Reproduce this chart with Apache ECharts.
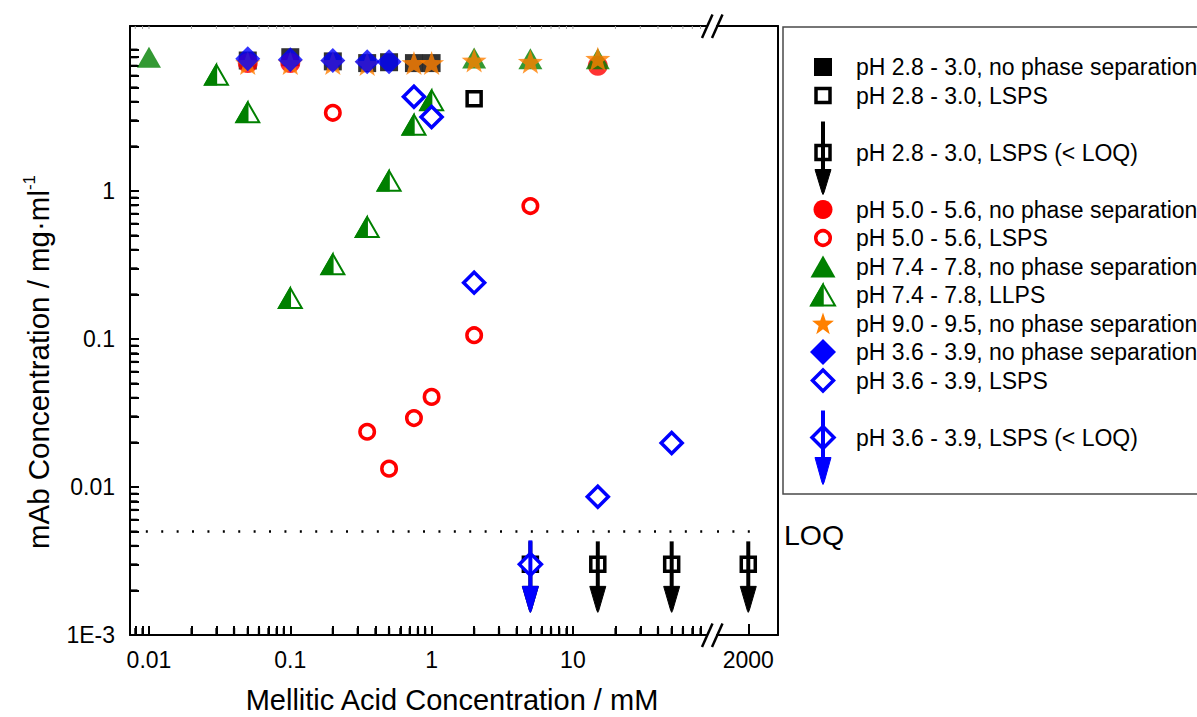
<!DOCTYPE html>
<html>
<head>
<meta charset="utf-8">
<title>mAb concentration vs. mellitic acid concentration</title>
<script src="https://cdn.jsdelivr.net/npm/echarts@6.0.0/dist/echarts.min.js"></script>
<style>
  html, body { margin: 0; padding: 0; background: #fff; }
  #chart { width: 1197px; height: 717px; }
</style>
</head>
<body>
<div id="chart"></div>
<script>
// ---- data: [mellitic acid / mM, mAb / mg·ml-1] ----
const ph28None = [[0.05, 7.6], [0.1, 8.0], [0.2, 7.5], [0.35, 7.3], [0.5, 7.4], [0.75, 7.3], [1, 7.3]];
const ph28Lsps = [[2, 4.2]];
const ph28Loq  = [[5, 0.003], [15, 0.003], [50, 0.003], [2000, 0.003]];
const ph50None = [[0.05, 7.3], [0.1, 7.3], [15, 7.0]];
const ph50Lsps = [[0.2, 3.37], [0.35, 0.0236], [0.5, 0.0133], [0.75, 0.0292], [1, 0.0406], [2, 0.106], [5, 0.79]];
const ph74None = [[0.01, 8.0], [2, 7.9], [5, 7.8], [15, 7.8]];
const ph74Llps = [[0.03, 6.1], [0.05, 3.4], [0.1, 0.189], [0.2, 0.32], [0.35, 0.57], [0.5, 1.17], [0.75, 2.8], [1, 4.1]];
const ph90None = [[0.05, 7.3], [0.1, 7.3], [0.2, 7.3], [0.35, 7.2], [0.75, 7.3], [1, 7.3], [2, 7.6], [5, 7.45], [15, 7.8]];
const ph36None = [[0.05, 7.8], [0.1, 7.7], [0.2, 7.6], [0.35, 7.45], [0.5, 7.45]];
const ph36Lsps = [[0.75, 4.32], [1, 3.16], [2, 0.24], [15, 0.0086], [50, 0.0198]];
const ph36Loq  = [[5, 0.003]];
const loqLevel = 0.005;

// ---- axis ticks ----
const xMajorTicks = [0.01, 0.1, 1, 10];
const xBreakTicks = [2000];
const yMajorTicks = [0.001, 0.01, 0.1, 1, 10];
const yTickLabels = ['1E-3', '0.01', '0.1', '1', '10'];

const seriesNames = [
  'pH 2.8 - 3.0, no phase separation',
  'pH 2.8 - 3.0, LSPS',
  'pH 2.8 - 3.0, LSPS (< LOQ)',
  'pH 5.0 - 5.6, no phase separation',
  'pH 5.0 - 5.6, LSPS',
  'pH 7.4 - 7.8, no phase separation',
  'pH 7.4 - 7.8, LLPS',
  'pH 9.0 - 9.5, no phase separation',
  'pH 3.6 - 3.9, no phase separation',
  'pH 3.6 - 3.9, LSPS',
  'pH 3.6 - 3.9, LSPS (< LOQ)'
];

// ---- axis ranges (the x axis is broken between the two segments) ----
const X_LEFT = [0.00734, 88.9];
const X_RIGHT = [1200, 3250];
const Y_RANGE = [0.001, 13];
const BREAK_AT = 100;
const LOQ_LEFT_START = 0.0095;
const LOQ_RIGHT_END = 2540;

// ---- styling ----
const FONT = '"Liberation Sans", Arial, Helvetica, sans-serif';
const BLACK = '#000000', RED = '#ff0000', GREEN = '#008000', ORANGE = '#ff8000', BLUE = '#0000ff';
const G1 = { left: 130, top: 26, width: 577, height: 609 };
const G2 = { left: 717, top: 26, width: 61, height: 609 };

// 2..9 × 10^n positions between two limits (minor ticks of a log axis)
function minorTicks(lo, hi) {
  const out = [];
  for (let e = -4; e <= 4; e++) {
    for (let m = 2; m <= 9; m++) {
      const v = +(m * Math.pow(10, e)).toPrecision(3);
      if (v > lo && v < hi) out.push(v);
    }
  }
  return out;
}
const near = (a, b) => Math.abs(a - b) <= Math.abs(b) * 1e-6;
const NBSP = '\u00a0';
// decade labels; the minor positions get an invisible label so that they keep their tick
const fmtX = v => xMajorTicks.concat(xBreakTicks).some(t => near(+v, t)) ? String(+(+v).toPrecision(6)) : NBSP;
const fmtY = v => { const i = yMajorTicks.findIndex(t => near(+v, t)); return i >= 0 ? yTickLabels[i] : NBSP; };
const byValue = (a, b) => a - b;

const leftOf = arr => arr.filter(d => d[0] < BREAK_AT);
const rightOf = arr => arr.filter(d => d[0] >= BREAK_AT);

// five-pointed star outline
function starPoints(cx, cy, rx, ry) {
  const pts = [];
  for (let i = 0; i < 10; i++) {
    const r = i % 2 ? 0.4 : 1;
    const a = -Math.PI / 2 + i * Math.PI / 5;
    pts.push([cx + rx * r * Math.cos(a), cy + ry * r * Math.sin(a)]);
  }
  return pts;
}
const starSymbol = 'path://M' + starPoints(0, 0, 1, 1).map(p => p[0].toFixed(4) + ',' + p[1].toFixed(4)).join('L') + 'Z';

// ---- shapes shared by custom series and the legend ----
function halfTriangle(x, y, color, w, h) {
  return [
    { type: 'polygon', shape: { points: [[x, y - h / 2], [x + w / 2, y + h / 2], [x - w / 2, y + h / 2]] },
      style: { fill: '#fff', stroke: color, lineWidth: 2 } },
    { type: 'polygon', shape: { points: [[x, y - h / 2], [x, y + h / 2], [x - w / 2, y + h / 2]] },
      style: { fill: color, stroke: color, lineWidth: 1.5 } }
  ];
}
function loqArrow(x, y, color, mark, top, headStart, tip) {
  const m = mark === 'square'
    ? { type: 'rect', shape: { x: x - 7, y: y - 7, width: 14, height: 14 }, style: { fill: '#fff', stroke: color, lineWidth: 3.5 } }
    : { type: 'polygon', shape: { points: [[x, y - 11], [x + 11, y], [x, y + 11], [x - 11, y]] }, style: { fill: '#fff', stroke: color, lineWidth: 3.5 } };
  return [
    m,
    { type: 'line', shape: { x1: x, y1: y + top, x2: x, y2: y + headStart + 2 }, style: { stroke: color, lineWidth: 4 } },
    { type: 'polygon', shape: { points: [[x - 8, y + headStart], [x + 8, y + headStart], [x + 1, y + tip - 2], [x, y + tip], [x - 1, y + tip - 2]] },
      style: { fill: color, stroke: color, lineWidth: 1, lineJoin: 'round' } }
  ];
}
function customRenderer(build) {
  return function (params, api) {
    const p = api.coord([api.value(0), api.value(1)]);
    return { type: 'group', children: build(p[0], p[1]) };
  };
}

// ---- axes ----
const lineStyle = { color: BLACK, width: 2 };
function logAxis(o) {
  return Object.assign({ type: 'log', logBase: 10, splitLine: { show: false }, minorTick: { show: false } }, o);
}
const xMinorLeft = minorTicks(X_LEFT[0], X_LEFT[1]);
const yMinor = minorTicks(Y_RANGE[0], 10);
const xTicksLeft = xMajorTicks.concat(xMinorLeft).sort(byValue);
const yTicksAll = yMajorTicks.concat(yMinor).sort(byValue);

const xAxis = [
  // 0: bottom, left segment
  logAxis({ gridIndex: 0, position: 'bottom', min: X_LEFT[0], max: X_LEFT[1],
    axisLine: { show: true, onZero: false, lineStyle },
    axisTick: { show: true, inside: true, length: 9, lineStyle: { color: BLACK, width: 2 }, customValues: xTicksLeft },
    axisLabel: { show: true, customValues: xTicksLeft, formatter: fmtX, fontSize: 23, fontFamily: FONT, color: BLACK, margin: 13 } }),
  // 1: top frame, left segment
  logAxis({ gridIndex: 0, position: 'top', min: X_LEFT[0], max: X_LEFT[1],
    axisLine: { show: true, onZero: false, lineStyle }, axisTick: { show: false }, axisLabel: { show: false } }),
  // 2: bottom, right segment
  logAxis({ gridIndex: 1, position: 'bottom', min: X_RIGHT[0], max: X_RIGHT[1],
    axisLine: { show: true, onZero: false, lineStyle },
    axisTick: { show: true, inside: true, length: 11, lineStyle: { color: BLACK, width: 2 }, customValues: xBreakTicks },
    axisLabel: { show: true, customValues: xBreakTicks, formatter: fmtX, fontSize: 23, fontFamily: FONT, color: BLACK, margin: 13 } }),
  // 3: top frame, right segment
  logAxis({ gridIndex: 1, position: 'top', min: X_RIGHT[0], max: X_RIGHT[1],
    axisLine: { show: true, onZero: false, lineStyle }, axisTick: { show: false }, axisLabel: { show: false } })
];

const yAxis = [
  // 0: left
  logAxis({ gridIndex: 0, position: 'left', min: Y_RANGE[0], max: Y_RANGE[1],
    axisLine: { show: true, onZero: false, lineStyle },
    axisTick: { show: true, inside: true, length: 9, lineStyle: { color: BLACK, width: 2 }, customValues: yTicksAll },
    axisLabel: { show: true, customValues: yTicksAll, formatter: fmtY, fontSize: 23, fontFamily: FONT, color: BLACK, margin: 15 } }),
  // 1: right frame (same vertical scale as the left axis)
  logAxis({ gridIndex: 1, position: 'right', min: Y_RANGE[0], max: Y_RANGE[1],
    axisLine: { show: true, onZero: false, lineStyle }, axisTick: { show: false }, axisLabel: { show: false } })
];

// ---- series ----
function scatter(name, data, symbol, size, itemStyle) {
  return { type: 'scatter', name, xAxisIndex: 0, yAxisIndex: 0, data, symbol, symbolSize: size,
           itemStyle, emphasis: { disabled: true }, silent: true };
}
const openStyle = c => ({ color: '#fff', borderColor: c, borderWidth: 3.5, opacity: 1 });

const blackArrow = (x, y) => loqArrow(x, y, BLACK, 'square', -23, 22, 48);
const blueArrow = (x, y) => loqArrow(x, y, BLUE, 'diamond', -24, 22, 48);

// short minor-tick strokes as rectangles set on the axis edges
function tickMarks(data, size, offset) {
  return { type: 'scatter', xAxisIndex: 0, yAxisIndex: 0, silent: true, clip: false, z: 4, data,
           symbol: 'rect', symbolSize: size, symbolOffset: offset, itemStyle: { color: BLACK }, emphasis: { disabled: true } };
}

const series = [
  tickMarks(xMinorLeft.map(v => [v, Y_RANGE[0]]), [2.4, 7], [0, -3.5]),
  tickMarks(yMinor.map(v => [X_LEFT[0], v]), [7.5, 2.4], [3.75, 0]),

  scatter(seriesNames[0], ph28None, 'rect', 18, { color: BLACK }),
  scatter(seriesNames[1], ph28Lsps, 'rect', 14, openStyle(BLACK)),
  { type: 'custom', name: seriesNames[2], xAxisIndex: 0, yAxisIndex: 0, data: leftOf(ph28Loq), renderItem: customRenderer(blackArrow), silent: true },
  { type: 'custom', name: seriesNames[2], xAxisIndex: 2, yAxisIndex: 1, data: rightOf(ph28Loq), renderItem: customRenderer(blackArrow), silent: true },
  scatter(seriesNames[3], ph50None, 'circle', 20, { color: RED }),
  scatter(seriesNames[4], ph50Lsps, 'circle', 14.5, openStyle(RED)),
  scatter(seriesNames[5], ph74None, 'triangle', [24, 21], { color: GREEN }),
  { type: 'custom', name: seriesNames[6], xAxisIndex: 0, yAxisIndex: 0, data: ph74Llps,
    renderItem: customRenderer((x, y) => halfTriangle(x, y, GREEN, 23, 20)), silent: true },
  scatter(seriesNames[7], ph90None, starSymbol, [25, 24], { color: ORANGE }),
  scatter(seriesNames[8], ph36None, 'diamond', [25, 25], { color: BLUE }),
  scatter(seriesNames[9], ph36Lsps, 'diamond', [21, 21], openStyle(BLUE)),
  { type: 'custom', name: seriesNames[10], xAxisIndex: 0, yAxisIndex: 0, data: ph36Loq, renderItem: customRenderer(blueArrow), silent: true },

  // limit of quantification, dotted across both axis segments
  { type: 'line', name: 'LOQ', xAxisIndex: 0, yAxisIndex: 0, silent: true, symbol: 'none', z: 1,
    data: [[LOQ_LEFT_START, loqLevel], [X_LEFT[1], loqLevel]],
    lineStyle: { color: BLACK, width: 2.5, type: [2, 13.4] } },
  { type: 'line', name: 'LOQ', xAxisIndex: 2, yAxisIndex: 1, silent: true, symbol: 'none', z: 1,
    data: [[X_RIGHT[0], loqLevel], [LOQ_RIGHT_END, loqLevel]],
    lineStyle: { color: BLACK, width: 2.5, type: [2, 13.4] },
    endLabel: { show: true, formatter: 'LOQ', fontSize: 28.5, fontFamily: FONT, color: BLACK, distance: 21, offset: [0, 3] } }
];

// ---- legend box drawn with graphic elements ----
const LEG = { x: 783, y: 27, w: 440, h: 467, symX: 823, textX: 856, firstRow: 67, unit: 28.5 };
const legendKinds = ['sqFill', 'sqOpen', 'sqLoq', 'circFill', 'circOpen', 'triFill', 'triHalf', 'star', 'diaFill', 'diaOpen', 'diaLoq'];
function legendSymbol(kind, x, y) {
  switch (kind) {
    case 'sqFill': return [{ type: 'rect', shape: { x: x - 9, y: y - 9, width: 18, height: 18 }, style: { fill: BLACK } }];
    case 'sqOpen': return [{ type: 'rect', shape: { x: x - 7, y: y - 7, width: 14, height: 14 }, style: { fill: '#fff', stroke: BLACK, lineWidth: 3.5 } }];
    case 'sqLoq': return loqArrow(x, y, BLACK, 'square', -31, 17, 42);
    case 'circFill': return [{ type: 'circle', shape: { cx: x, cy: y, r: 9.5 }, style: { fill: RED } }];
    case 'circOpen': return [{ type: 'circle', shape: { cx: x, cy: y, r: 7.3 }, style: { fill: '#fff', stroke: RED, lineWidth: 3.5 } }];
    case 'triFill': return [{ type: 'polygon', shape: { points: [[x, y - 11], [x + 12.5, y + 11], [x - 12.5, y + 11]] }, style: { fill: GREEN } }];
    case 'triHalf': return halfTriangle(x, y, GREEN, 24, 21);
    case 'star': return [{ type: 'polygon', shape: { points: starPoints(x, y + 1, 11.5, 12) }, style: { fill: ORANGE } }];
    case 'diaFill': return [{ type: 'polygon', shape: { points: [[x, y - 13], [x + 13, y], [x, y + 13], [x - 13, y]] }, style: { fill: BLUE } }];
    case 'diaOpen': return [{ type: 'polygon', shape: { points: [[x, y - 10.5], [x + 10.5, y], [x, y + 10.5], [x - 10.5, y]] }, style: { fill: '#fff', stroke: BLUE, lineWidth: 3.5 } }];
    case 'diaLoq': return loqArrow(x, y, BLUE, 'diamond', -27, 20, 47);
  }
  return [];
}
const graphic = [
  { type: 'rect', shape: { x: LEG.x, y: LEG.y, width: LEG.w, height: LEG.h }, style: { fill: 'none', stroke: '#4a4a4a', lineWidth: 1.5 }, silent: true }
];
let pos = 0;
seriesNames.forEach((name, i) => {
  const tall = legendKinds[i].endsWith('Loq');
  if (i > 0) pos += (tall || legendKinds[i - 1].endsWith('Loq')) ? 2 : 1;
  const cy = LEG.firstRow + pos * LEG.unit;
  legendSymbol(legendKinds[i], LEG.symX, cy).forEach(el => graphic.push(Object.assign({ silent: true }, el)));
  graphic.push({ type: 'text', x: LEG.textX, y: cy, silent: true,
    style: { text: name, fontSize: 23, fontFamily: FONT, fill: BLACK, align: 'left', verticalAlign: 'middle' } });
});

// axis break marks "//" on the bottom and top frame lines
const breakX = (G1.left + G1.width + G2.left) / 2;
[G1.top, G1.top + G1.height].forEach(yy => {
  [-5, 5].forEach(dx => {
    graphic.push({ type: 'line', silent: true,
      shape: { x1: breakX + dx - 5, y1: yy + 12, x2: breakX + dx + 5.5, y2: yy - 11.5 },
      style: { stroke: BLACK, lineWidth: 2.5 } });
  });
});

// axis titles
graphic.push({ type: 'text', x: 452, y: 700, silent: true,
  style: { text: 'Mellitic Acid Concentration / mM', fontSize: 29, fontFamily: FONT, fill: BLACK, align: 'center', verticalAlign: 'middle' } });
graphic.push({ type: 'text', x: 38, y: 362, rotation: Math.PI / 2, silent: true,
  style: { text: '{a|mAb Concentration / mg·ml}{s|-1}', fontFamily: FONT, fill: BLACK, align: 'center', verticalAlign: 'middle',
    rich: { a: { fontSize: 29.5, fontFamily: FONT, fill: BLACK, lineHeight: 34 },
            s: { fontSize: 17, fontFamily: FONT, fill: BLACK, lineHeight: 34, verticalAlign: 'top' } } } });

const chart = echarts.init(document.getElementById('chart'), null, { renderer: 'svg' });
chart.setOption({
  animation: false,
  backgroundColor: '#fff',
  textStyle: { fontFamily: FONT },
  grid: [
    Object.assign({ containLabel: false, outerBoundsMode: 'none' }, G1),
    Object.assign({ containLabel: false, outerBoundsMode: 'none' }, G2)
  ],
  xAxis, yAxis, series, graphic
});

// faint tick marks along the top frame, placed through the top axis scale
const topY = G1.top;
const topMarks = xTicksLeft.map(v => {
  const px = chart.convertToPixel({ xAxisIndex: 1 }, v);
  return { type: 'rect', silent: true, z: 100, shape: { x: px - 0.5, y: topY, width: 1, height: 3 }, style: { fill: '#a0a0a0' } };
});
chart.setOption({ graphic: graphic.concat(topMarks) });
</script>
</body>
</html>
